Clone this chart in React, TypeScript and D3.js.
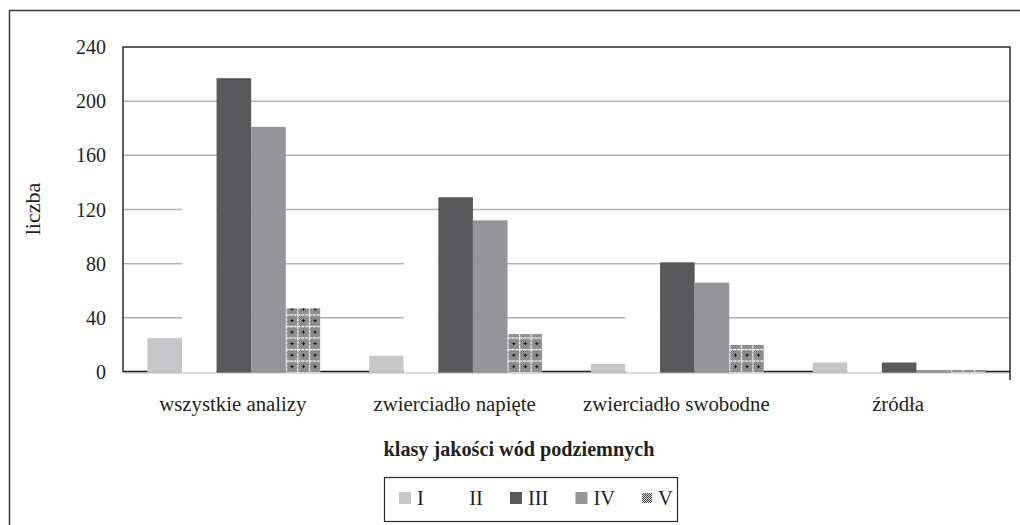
import React, { useEffect, useRef } from "react";
import * as d3 from "d3";

const categories = ["wszystkie analizy", "zwierciadło napięte", "zwierciadło swobodne", "źródła"];
const seriesNames = ["I", "II", "III", "IV", "V"];
const valuesI = [25, 12, 6, 7];
const valuesII = [143, 93, 45, 5];
const valuesIII = [217, 129, 81, 7];
const valuesIV = [181, 112, 66, 1.5];
const valuesV = [47, 28, 20, 1.5];
const yTicks = [0, 40, 80, 120, 160, 200, 240];
const yLabel = "liczba";
const xTitle = "klasy jakości wód podziemnych";

const seriesValues = [valuesI, valuesII, valuesIII, valuesIV, valuesV];
const seriesFill = ["#c6c7c9", "#ffffff", "#58595b", "#939598", "pattern"];

const W = 1020;
const H = 525;
const M = { left: 123, right: 1010, top: 47, bottom: 372 };
const FONT = "'Liberation Serif', 'Times New Roman', serif";
const TEXT = "#231f20";

export default function App() {
  const ref = useRef<SVGSVGElement | null>(null);

  useEffect(() => {
    const svg = d3.select(ref.current);
    svg.selectAll("*").remove();

    const defs = svg.append("defs");
    const st = defs.append("pattern").attr("id", "stipple").attr("patternUnits", "userSpaceOnUse")
      .attr("width", 2).attr("height", 2);
    st.append("rect").attr("width", 2).attr("height", 2).attr("fill", "#e2e2e2");
    st.append("rect").attr("x", 0).attr("y", 0).attr("width", 1).attr("height", 1).attr("fill", "#3a3a3a");
    st.append("rect").attr("x", 1).attr("y", 1).attr("width", 1).attr("height", 1).attr("fill", "#3a3a3a");

    const x0 = d3.scaleBand<string>().domain(categories).range([M.left, M.right]).paddingInner(0).paddingOuter(0);
    const x1 = d3.scaleBand<string>().domain(seriesNames).range([0, x0.bandwidth()]).paddingInner(0).paddingOuter(0.705);
    const y = d3.scaleLinear().domain([0, 240]).range([M.bottom, M.top]);
    const bw = x1.bandwidth();
    const cell = bw / 3;

    const makeCellPattern = (id: string, px: number, py: number, size: number) => {
      const p = defs.append("pattern").attr("id", id).attr("patternUnits", "userSpaceOnUse")
        .attr("x", px).attr("y", py).attr("width", size).attr("height", size);
      p.append("rect").attr("width", size).attr("height", size).attr("fill", "url(#stipple)");
      p.append("line").attr("x1", 0.5).attr("x2", 0.5).attr("y1", 0).attr("y2", size)
        .attr("stroke", "#fff").attr("stroke-width", 1.2).attr("stroke-dasharray", "3,1");
      p.append("line").attr("y1", 0.5).attr("y2", 0.5).attr("x1", 0).attr("x2", size)
        .attr("stroke", "#fff").attr("stroke-width", 1.2).attr("stroke-dasharray", "3,1");
      const c = size / 2 + 0.5;
      p.append("line").attr("x1", c - 1.5).attr("x2", c + 1.5).attr("y1", c).attr("y2", c).attr("stroke", "#111").attr("stroke-width", 1);
      p.append("line").attr("x1", c).attr("x2", c).attr("y1", c - 1.5).attr("y2", c + 1.5).attr("stroke", "#111").attr("stroke-width", 1);
    };
    categories.forEach((c, i) => {
      makeCellPattern(`patV${i}`, (x0(c) as number) + (x1("V") as number), M.bottom, cell);
    });

    // outer frame
    svg.append("rect").attr("x", 9.5).attr("y", 10.5).attr("width", W + 20).attr("height", H + 20)
      .attr("fill", "none").attr("stroke", "#3a3a3a").attr("stroke-width", 1.5);

    // gridlines
    svg.append("g").selectAll("line").data(yTicks.filter((t) => t > 0 && t < 240)).join("line")
      .attr("x1", M.left).attr("x2", M.right).attr("y1", (d) => y(d)).attr("y2", (d) => y(d))
      .attr("stroke", "#b3b3b3").attr("stroke-width", 1.5);

    // axis baseline
    svg.append("line").attr("x1", M.left).attr("x2", M.right).attr("y1", M.bottom + 1).attr("y2", M.bottom + 1)
      .attr("stroke", "#c0c0c0").attr("stroke-width", 1);
    svg.append("line").attr("x1", M.left).attr("x2", M.right).attr("y1", M.bottom - 0.5).attr("y2", M.bottom - 0.5)
      .attr("stroke", "#1a1a1a").attr("stroke-width", 1.5);

    // plot frame (top, left, right)
    svg.append("path")
      .attr("d", `M${M.left},${M.bottom} V${M.top} H${M.right} V${M.bottom + 8}`)
      .attr("fill", "none").attr("stroke", "#2a2a2a").attr("stroke-width", 1.5);

    // bars
    const g = svg.append("g");
    categories.forEach((c, ci) => {
      seriesNames.forEach((s, si) => {
        const v = seriesValues[si][ci];
        const fill = seriesFill[si] === "pattern" ? `url(#patV${ci})` : seriesFill[si];
        g.append("rect")
          .attr("x", (x0(c) as number) + (x1(s) as number))
          .attr("y", y(v))
          .attr("width", bw)
          .attr("height", y(0) - y(v) + 0.5)
          .attr("fill", fill);
      });
    });

    // y tick labels
    svg.append("g").selectAll("text").data(yTicks).join("text")
      .attr("x", 106).attr("y", (d) => y(d)).attr("dy", "0.35em")
      .attr("text-anchor", "end").attr("font-family", FONT).attr("font-size", 20).attr("fill", TEXT)
      .text((d) => String(d));

    // category labels
    svg.append("g").selectAll("text").data(categories).join("text")
      .attr("x", (d) => (x0(d) as number) + x0.bandwidth() / 2 - 1).attr("y", 411)
      .attr("text-anchor", "middle").attr("font-family", FONT).attr("font-size", 20.8).attr("fill", TEXT)
      .text((d) => d);

    // y label
    svg.append("text").attr("transform", `translate(40,${209}) rotate(-90)`)
      .attr("text-anchor", "middle").attr("font-family", FONT).attr("font-size", 22).attr("fill", TEXT)
      .text(yLabel);

    // x title
    svg.append("text").attr("x", 519).attr("y", 456).attr("text-anchor", "middle")
      .attr("font-family", FONT).attr("font-size", 20.2).attr("font-weight", "bold").attr("fill", TEXT)
      .text(xTitle);

    // legend
    const lg = svg.append("g");
    lg.append("rect").attr("x", 384.5).attr("y", 477.5).attr("width", 293).attr("height", 44)
      .attr("fill", "#fff").attr("stroke", "#2a2a2a").attr("stroke-width", 1.2);
    const charW: Record<string, number> = { I: 0.333, V: 0.722 };
    let lx = 399;
    seriesNames.forEach((s, si) => {
      const isPat = seriesFill[si] === "pattern";
      const sw = isPat ? 10 : 12;
      const fill = isPat ? "url(#stipple)" : seriesFill[si];
      lg.append("rect").attr("x", lx).attr("y", isPat ? 493 : 492)
        .attr("width", sw).attr("height", sw).attr("fill", fill);
      lg.append("text").attr("x", lx + sw + 6).attr("y", 505)
        .attr("font-family", FONT).attr("font-size", 20.5).attr("fill", TEXT).text(s);
      const tw = s.split("").reduce((a, ch) => a + (charW[ch] || 0.5) * 20, 0);
      lx = lx + 45.5 + tw;
    });
  }, []);

  return (
    <svg ref={ref} width={W} height={H} style={{ position: "absolute", left: 0, top: 0, background: "#fff" }} />
  );
}
